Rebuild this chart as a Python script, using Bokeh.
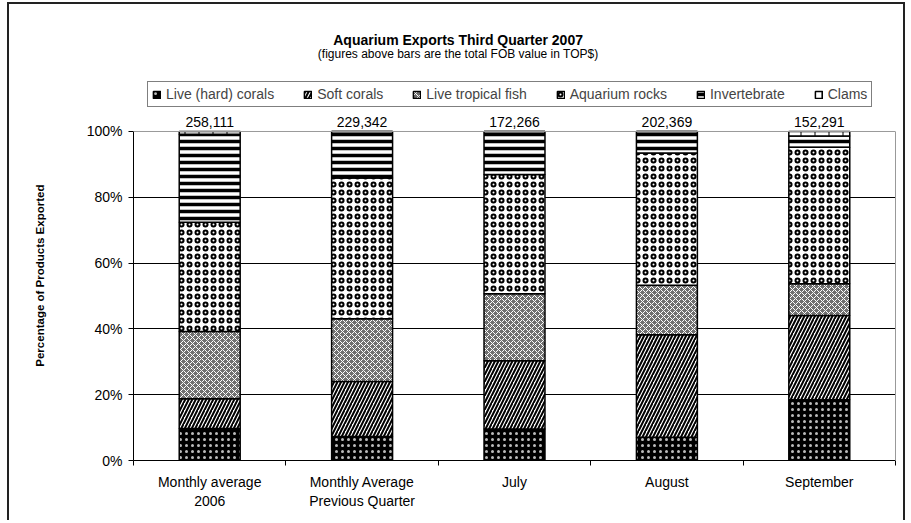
from bokeh.plotting import figure
from bokeh.models import (ColumnDataSource, FixedTicker, Legend, LegendItem, LabelSet, Label,
                          Range1d, LinearAxis, Span)
from bokeh.core.properties import value
from bokeh.embed import file_html
from bokeh.resources import INLINE

# ---- data ----
categories = ["Monthly average\n2006", "Monthly Average\nPrevious Quarter", "July", "August", "September"]
totals = ["258,111", "229,342", "172,266", "202,369", "152,291"]
series_names = ["Live (hard) corals", "Soft corals", "Live tropical fish", "Aquarium rocks", "Invertebrate", "Clams"]
hard_corals = [9.7, 7.3, 9.6, 7.1, 18.5]
soft_corals = [9.1, 16.7, 20.7, 31.1, 25.6]
tropical_fish = [20.4, 19.1, 20.4, 15.1, 9.6]
aquarium_rocks = [33.2, 42.8, 36.2, 40.2, 41.5]
invertebrate = [26.8, 14.1, 13.1, 6.5, 3.4]
clams = [0.8, 0.0, 0.0, 0.0, 1.4]
y_ticks = [0, 20, 40, 60, 80, 100]
y_tick_labels = ["0%", "20%", "40%", "60%", "80%", "100%"]
title_text = "Aquarium Exports Third Quarter 2007"
subtitle_text = "(figures above bars are the total FOB value in TOP$)"
y_label = "Percentage of Products Exported"

series = [hard_corals, soft_corals, tropical_fish, aquarium_rocks, invertebrate, clams]
keys = ["hard", "soft", "fish", "rocks", "invert", "clams"]

# ---- styles ----
FONT = "Liberation Sans"
fills = ["black", "white", "#707070", "white", "white", "white"]
hatch_patterns = [".", "/", "x", "o", "-", "|"]
hatch_colors = ["#bbbbbb", "black", "white", "black", "black", "black"]
hatch_scales = [6, 7, 6, 8, 7, 14]
hatch_weights = [1, 2, 1, 2, 3.5, 1]
Y_TOP = 138.6   # headroom above 100% for titles, legend and totals
LABEL_PAD = "\u00a0" * 27   # shifts the rotated axis title to sit centred on the 0-100% span

x = [i + 0.5 for i in range(len(categories))]
data = dict(x=x, totals=totals, top=[sum(v) for v in zip(*series)])
for k, s in zip(keys, series):
    data[k] = s
src = ColumnDataSource(data)

p = figure(width=898, height=518, x_range=Range1d(0, len(categories)), y_range=Range1d(0, Y_TOP),
           output_backend="svg", toolbar_location=None, title=None,
           min_border_left=124, min_border_right=12, min_border_top=0, min_border_bottom=62)
p.margin = (2, 0, 0, 7)
p.styles = {"border-top": "2px solid #222", "border-left": "2px solid #222", "border-right": "2px solid #222"}
p.background_fill_color = "white"
p.border_fill_color = "white"
p.outline_line_color = None

renderers = p.vbar_stack(keys, x="x", width=0.4, source=src,
                         fill_color=fills, hatch_pattern=hatch_patterns, hatch_color=hatch_colors,
                         hatch_scale=hatch_scales, hatch_weight=hatch_weights,
                         line_color="black", line_width=1.5)

labels = LabelSet(x="x", y="top", text="totals", source=src, y_offset=4,
                  text_align="center", text_baseline="bottom",
                  text_font=value(FONT), text_font_size=value("14px"), text_color="black")
p.add_layout(labels)

# plot-area top border (grey) at 100%
p.add_layout(Span(location=y_ticks[-1], dimension="width", line_color="#999999", line_width=1))

# axes
yax = p.left[0]
yax.bounds = (y_ticks[0], y_ticks[-1])
yax.ticker = FixedTicker(ticks=y_ticks)
yax.major_label_overrides = {t: l for t, l in zip(y_ticks, y_tick_labels)}
yax.major_tick_out = 5
yax.major_tick_in = 0
yax.minor_tick_line_color = None
yax.axis_line_color = "black"
yax.major_tick_line_color = "black"
yax.major_label_text_font = FONT
yax.major_label_text_font_size = "14px"
yax.major_label_text_color = "black"
yax.major_label_standoff = 6
yax.axis_label = y_label + LABEL_PAD
yax.axis_label_text_font = FONT
yax.axis_label_text_font_size = "11.5px"
yax.axis_label_text_font_style = "bold"
yax.axis_label_text_color = "black"
yax.axis_label_standoff = 38

rax = LinearAxis(bounds=(y_ticks[0], y_ticks[-1]), ticker=FixedTicker(ticks=[]),
                 axis_line_color="#999999", major_tick_line_color=None, minor_tick_line_color=None,
                 major_label_text_font_size="0px")
p.add_layout(rax, "right")

xax = p.below[0]
xax.ticker = FixedTicker(ticks=x, minor_ticks=list(range(len(categories) + 1)))
xax.major_label_overrides = {xi: c for xi, c in zip(x, categories)}
xax.major_tick_out = 0
xax.major_tick_in = 0
xax.minor_tick_out = 5
xax.minor_tick_in = 0
xax.minor_tick_line_color = "black"
xax.axis_line_color = "black"
xax.major_label_text_font = FONT
xax.major_label_text_font_size = "14px"
xax.major_label_text_color = "black"
xax.major_label_standoff = 8

p.xgrid.visible = False
p.ygrid.ticker = FixedTicker(ticks=[t for t in y_ticks if 0 < t < 100])
p.ygrid.grid_line_color = "black"
p.ygrid.grid_line_width = 1

legend = Legend(items=[LegendItem(label=n, renderers=[r]) for n, r in zip(series_names, renderers)],
                orientation="horizontal", location=(14, 353),
                border_line_color="black", border_line_width=1, background_fill_alpha=1,
                padding=4, spacing=29, margin=0,
                label_text_font=FONT, label_text_font_size="14px",
                glyph_width=9, glyph_height=9, label_standoff=5)
p.add_layout(legend)

p.add_layout(Label(x=2.13, y=127.7, text=title_text, text_align="center", text_baseline="middle",
                   text_font=FONT, text_font_size="14px", text_font_style="bold", text_color="black"))
p.add_layout(Label(x=2.13, y=123.6, text=subtitle_text, text_align="center", text_baseline="middle",
                   text_font=FONT, text_font_size="12px", text_color="black"))

open("out.html", "w").write(file_html(p, INLINE))
